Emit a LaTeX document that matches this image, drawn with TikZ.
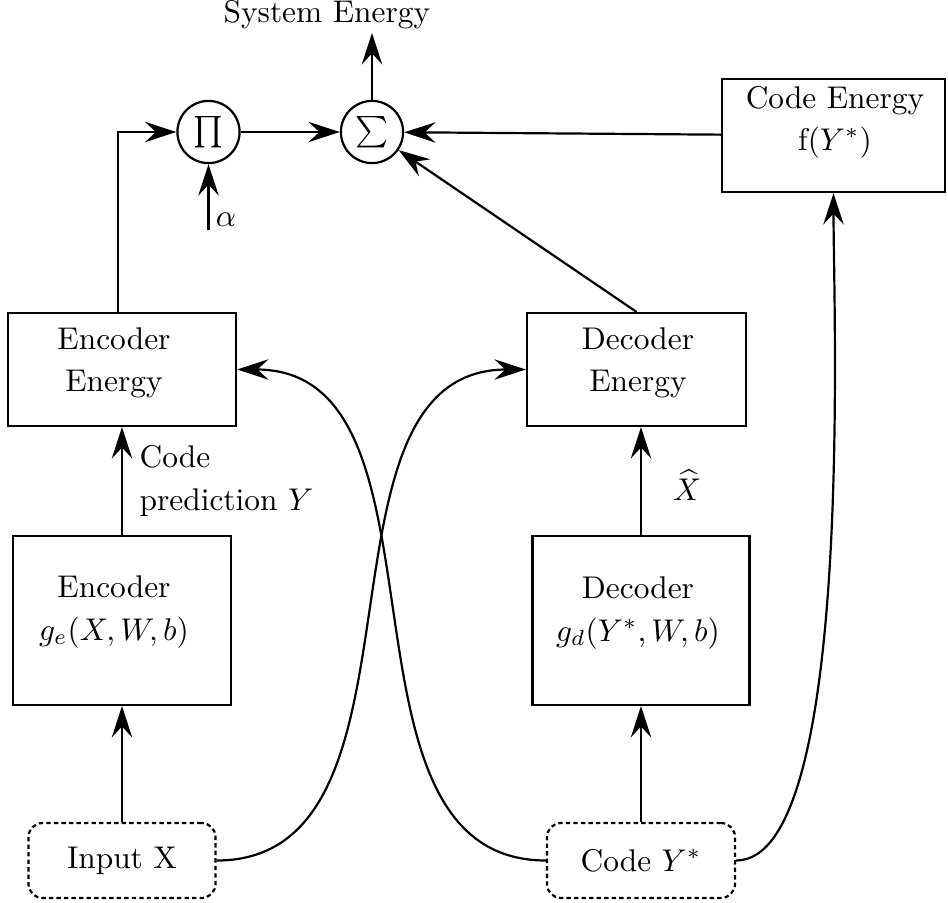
\documentclass[tikz,border=0pt]{standalone}
\usetikzlibrary{arrows.meta}
\begin{document}
\begin{tikzpicture}[x=0.3185pt,y=-0.3185pt,
  >={Stealth[length=10pt,width=6.5pt,inset=3.5pt]},
  box/.style={draw, line width=0.7pt, inner sep=0},
  io/.style={draw, line width=0.7pt, dash pattern=on 1.4pt off 1pt, rounded corners=4.5pt, inner sep=0},
  op/.style={draw, line width=0.7pt, circle, minimum size=19.8pt, inner sep=0},
  lbl/.style={align=center, inner sep=0, execute at begin node={\setlength{\baselineskip}{13.4pt}}},
  wire/.style={line width=0.7pt, ->}
]
\useasboundingbox (0,0) rectangle (948,903);

% operators
\node[op] (pi) at (208.5,132) {$\prod$};
\node[op] (sigma) at (372,132) {$\sum$};

% boxes
\node[box, minimum width=72.6pt, minimum height=36pt] (ee) at (122,369.5) {};
\node[box, minimum width=69.8pt, minimum height=36pt] (de) at (636.5,369.5) {};
\node[box, minimum width=69.4pt, minimum height=53.8pt] (enc) at (122,620.5) {};
\node[box, minimum width=69.1pt, minimum height=53.8pt] (dec) at (641,620.5) {};
\node[box, minimum width=71pt, minimum height=36pt] (ce) at (833.5,135.5) {};
\node[io, minimum width=59.6pt, minimum height=23.9pt] (inx) at (122,860.5) {Input X};
\node[io, minimum width=59.9pt, minimum height=23.9pt] (cy) at (641,860.5) {Code $Y^{*}$};

% box texts
\node[lbl] (eetext) at (114,363) {Encoder\\Energy};
\node[lbl] (detext) at (638,363) {Decoder\\Energy};
\node[lbl] (enctext) at (114,612) {Encoder\\$g_e(X,W,b)$};
\node[lbl] (dectext) at (638,613) {Decoder\\$g_d(Y^{*},W,b)$};
\node[lbl] (cetext) at (835,122) {Code Energy\\f($Y^{*}$)};

% free labels
\node[anchor=west, inner sep=0] (sys) at (223,15) {System Energy};
\node[inner sep=0] (alpha) at (226,220) {$\alpha$};
\node[lbl, align=left, anchor=west] (pred) at (139,481) {Code\\prediction $Y$};
\node[inner sep=0] (xhat) at (687,485) {$\widehat{X}$};

% free ends
\coordinate (sysout) at (372,33);
\coordinate (alphain) at (208.5,230);
\coordinate (turn) at (118,132);

% connectors
\draw[wire] (sigma.north) -- (sysout);
\draw[wire] (pi) -- (sigma);
\draw[wire] (ce) -- (sigma);
\draw[wire] (de.north) -- (sigma);
\draw[wire] (alphain) -- (pi.south);
\draw[wire] (ee.north -| turn) -- (turn) -- (pi);
\draw[wire] (enc.north) -- (ee.south);
\draw[wire] (inx.north) -- (enc.south);
\draw[wire] (dec.north) -- (dec.north |- de.south);
\draw[wire] (cy.north) -- (dec.south);
\draw[wire] (inx.east) to[out=0,in=180] (de.west);
\draw[wire] (cy.west) to[out=180,in=0] (ee.east);
\draw[wire] (cy.east) to[out=0,in=-90,looseness=0.45] (ce.south);
\end{tikzpicture}
\end{document}
